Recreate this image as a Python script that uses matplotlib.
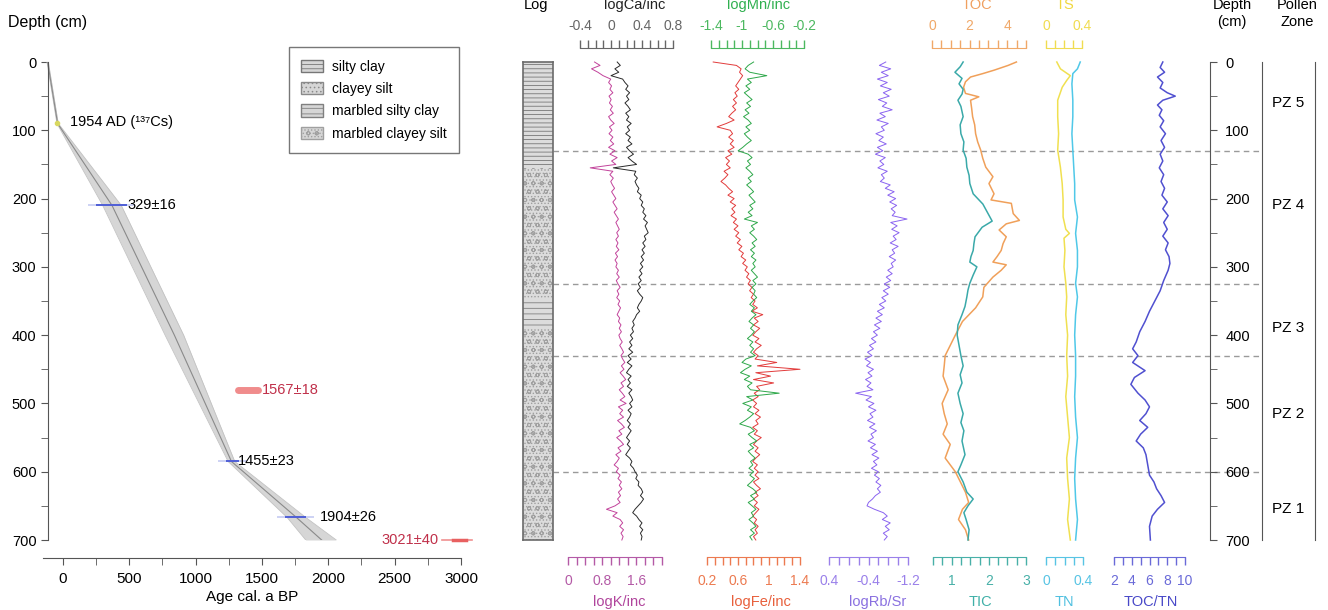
import numpy as np
import matplotlib.pyplot as plt
from matplotlib.patches import Patch

plt.rcParams['font.family'] = ['Liberation Sans', 'DejaVu Sans']
plt.rcParams['axes.unicode_minus'] = False
plt.rcParams['hatch.linewidth'] = 0.6

# ---------------- data ----------------
# age-depth model
model_depth = [0, 90, 210, 400, 585, 667, 700]
model_median = [-115, -40, 370, 840, 1270, 1760, 1950]
model_lower = [-120, -45, 300, 770, 1245, 1690, 1830]
model_upper = [-110, -35, 440, 910, 1295, 1830, 2060]

cs_depth, cs_age = 90, -45
date_depth = [210, 585, 667]
date_lo = [250, 1230, 1670]
date_hi = [480, 1330, 1830]
date_label = ['329±16', '1455±23', '1904±26']
outlier_depth = [480, 700]
outlier_lo = [1320, 2860]
outlier_hi = [1470, 3080]
outlier_label = ['1567±18', '3021±40']

# lithology log
litho_top = [0, 155, 345, 390]
litho_bot = [155, 345, 390, 700]
litho_type = ['silty clay', 'marbled clayey silt', 'marbled silty clay', 'marbled clayey silt']

zone_bounds = [130, 325, 430, 600]
zone_names = ['PZ 5', 'PZ 4', 'PZ 3', 'PZ 2', 'PZ 1']
zone_mid = [60, 210, 390, 515, 655]

# XRF scans, every 5 cm
xrf_depth = np.arange(0, 701, 5)
logK = [0.62, 0.75, 0.55, 0.70, 0.82, 1.00, 0.95, 1.02, 0.98, 1.05, 0.96, 1.01, 0.97, 1.04, 0.99,
        1.06, 0.95, 1.00, 1.08, 0.97, 1.03, 0.96, 1.05, 0.99, 1.07, 0.95, 1.10, 0.98, 1.15, 1.02,
        1.12, 0.52, 1.05, 0.98, 1.06, 1.00, 1.04, 1.09, 1.02, 1.07, 1.12, 1.05, 1.10, 1.15, 1.08,
        1.13, 1.18, 1.12, 1.16, 1.20, 1.14, 1.18, 1.12, 1.17, 1.13, 1.19, 1.11, 1.16, 1.10, 1.15,
        1.12, 1.18, 1.14, 1.20, 1.13, 1.17, 1.22, 1.15, 1.19, 1.14, 1.21, 1.17, 1.23, 1.19, 1.15,
        1.21, 1.18, 1.24, 1.20, 1.25, 1.19, 1.22, 1.27, 1.21, 1.26, 1.30, 1.24, 1.28, 1.33, 1.25,
        1.31, 1.22, 1.29, 1.35, 1.24, 1.30, 1.20, 1.27, 1.33, 1.22, 1.36, 1.18, 1.28, 1.21, 1.30,
        1.16, 1.25, 1.32, 1.19, 1.26, 1.14, 1.23, 1.30, 1.17, 1.24, 1.12, 1.20, 1.15, 1.08, 1.18,
        1.13, 1.22, 1.17, 1.25, 1.20, 1.26, 1.18, 1.23, 1.16, 1.22, 1.10, 0.90, 1.15, 1.05, 1.22,
        1.28, 1.21, 1.30, 1.24, 1.29, 1.26]
logCa = [0.08, 0.12, 0.05, 0.10, 0.00, 0.15, 0.18, 0.22, 0.19, 0.24, 0.20, 0.23, 0.18, 0.22, 0.25,
         0.19, 0.23, 0.20, 0.26, 0.21, 0.24, 0.19, 0.25, 0.22, 0.27, 0.20, 0.24, 0.29, 0.22, 0.27,
         0.33, 0.03, 0.32, 0.30, 0.34, 0.31, 0.33, 0.36, 0.34, 0.39, 0.37, 0.41, 0.39, 0.43, 0.41,
         0.45, 0.42, 0.47, 0.44, 0.46, 0.48, 0.43, 0.45, 0.41, 0.44, 0.40, 0.43, 0.39, 0.42, 0.38,
         0.41, 0.37, 0.40, 0.36, 0.39, 0.35, 0.38, 0.34, 0.37, 0.41, 0.39, 0.36, 0.34, 0.37, 0.33,
         0.31, 0.28, 0.30, 0.27, 0.29, 0.25, 0.28, 0.24, 0.27, 0.23, 0.28, 0.22, 0.26, 0.21, 0.27,
         0.23, 0.20, 0.26, 0.22, 0.25, 0.21, 0.27, 0.23, 0.26, 0.28, 0.24, 0.27, 0.22, 0.26, 0.24,
         0.21, 0.25, 0.22, 0.26, 0.23, 0.20, 0.24, 0.21, 0.25, 0.22, 0.19, 0.24, 0.27, 0.25, 0.29,
         0.31, 0.34, 0.32, 0.36, 0.35, 0.39, 0.41, 0.38, 0.42, 0.39, 0.35, 0.31, 0.28, 0.33, 0.36,
         0.40, 0.37, 0.41, 0.38, 0.40, 0.39]
logFe = [0.28, 0.58, 0.64, 0.62, 0.66, 0.63, 0.60, 0.57, 0.61, 0.56, 0.59, 0.54, 0.58, 0.53, 0.57,
         0.52, 0.48, 0.55, 0.45, 0.33, 0.50, 0.53, 0.48, 0.54, 0.50, 0.55, 0.47, 0.52, 0.44, 0.49,
         0.45, 0.50, 0.42, 0.47, 0.43, 0.38, 0.44, 0.48, 0.53, 0.47, 0.55, 0.50, 0.57, 0.52, 0.56,
         0.51, 0.58, 0.54, 0.60, 0.55, 0.61, 0.57, 0.63, 0.59, 0.65, 0.61, 0.67, 0.64, 0.70, 0.66,
         0.72, 0.69, 0.74, 0.71, 0.76, 0.73, 0.78, 0.75, 0.80, 0.77, 0.82, 0.79, 0.85, 0.78, 0.92,
         0.81, 0.86, 0.80, 0.88, 0.83, 0.79, 0.87, 0.82, 0.90, 0.84, 0.80, 0.86, 0.82, 1.10, 0.85,
         1.40, 0.83, 1.02, 0.80, 1.06, 0.84, 0.88, 0.81, 0.86, 0.79, 0.84, 0.80, 0.87, 0.82, 0.89,
         0.83, 0.86, 0.79, 0.85, 0.81, 0.90, 0.84, 0.80, 0.86, 0.82, 0.88, 0.83, 0.79, 0.85, 0.81,
         0.86, 0.82, 0.87, 0.80, 0.84, 0.89, 0.82, 0.86, 0.80, 0.85, 0.81, 0.87, 0.83, 0.79, 0.84,
         0.81, 0.86, 0.82, 0.85, 0.80, 0.83]
logMn = [-0.85, -0.92, -0.96, -0.90, -0.68, -0.93, -0.88, -0.95, -0.90, -0.97, -0.92, -0.87, -0.94,
         -0.89, -0.96, -0.91, -0.98, -0.92, -0.88, -0.95, -0.90, -0.97, -0.93, -0.88, -0.94, -0.99,
         -1.05, -0.92, -0.87, -0.93, -0.89, -0.95, -0.90, -0.86, -0.92, -0.88, -0.94, -0.89, -0.85,
         -0.91, -0.87, -0.83, -0.90, -0.86, -0.92, -0.87, -0.97, -0.80, -0.88, -0.84, -0.90, -0.85,
         -0.81, -0.87, -0.83, -0.89, -0.84, -0.88, -0.82, -0.86, -0.83, -0.88, -0.84, -0.80, -0.86,
         -0.82, -0.87, -0.83, -0.85, -0.81, -0.86, -0.90, -0.84, -0.88, -0.82, -0.87, -0.91, -0.85,
         -0.89, -0.84, -0.88, -0.93, -0.86, -0.90, -0.85, -0.89, -0.83, -0.95, -1.00, -0.88, -0.96,
         -1.02, -0.90, -0.97, -0.87, -0.93, -0.89, -0.52, -0.94, -0.86, -0.99, -0.88, -0.93, -0.85,
         -0.90, -0.96, -1.03, -0.89, -0.84, -0.92, -0.87, -0.81, -0.90, -0.85, -0.92, -0.88, -0.83,
         -0.89, -0.86, -0.91, -0.85, -0.90, -0.84, -0.88, -0.93, -0.86, -0.81, -0.89, -0.84, -0.92,
         -0.87, -0.82, -0.88, -0.85, -0.91, -0.86, -0.82, -0.89, -0.84, -0.90, -0.87]
logRbSr = [-0.75, -0.62, -0.85, -0.66, -0.80, -0.58, -0.78, -0.64, -0.86, -0.70, -0.82, -0.60, -0.77,
           -0.68, -0.88, -0.63, -0.74, -0.57, -0.80, -0.66, -0.72, -0.55, -0.70, -0.61, -0.76, -0.58,
           -0.69, -0.54, -0.74, -0.63, -0.71, -0.59, -0.78, -0.66, -0.72, -0.64, -0.84, -0.74, -0.92,
           -0.79, -0.95, -0.83, -0.97, -0.86, -0.94, -0.88, -1.18, -0.85, -0.98, -0.87, -1.02, -0.90,
           -0.96, -0.84, -1.00, -0.88, -0.93, -0.82, -0.95, -0.86, -0.90, -0.79, -0.88, -0.76, -0.85,
           -0.72, -0.83, -0.70, -0.80, -0.67, -0.75, -0.62, -0.72, -0.58, -0.68, -0.55, -0.66, -0.52,
           -0.63, -0.50, -0.58, -0.46, -0.55, -0.42, -0.50, -0.38, -0.47, -0.33, -0.44, -0.36, -0.50,
           -0.39, -0.47, -0.34, -0.45, -0.37, -0.49, -0.14, -0.46, -0.35, -0.51, -0.40, -0.55, -0.43,
           -0.49, -0.38, -0.53, -0.42, -0.56, -0.45, -0.50, -0.39, -0.54, -0.44, -0.58, -0.47, -0.61,
           -0.50, -0.57, -0.46, -0.60, -0.52, -0.62, -0.55, -0.65, -0.58, -0.64, -0.54, -0.48, -0.40,
           -0.37, -0.52, -0.70, -0.78, -0.68, -0.84, -0.74, -0.82, -0.70, -0.78, -0.72]

# bulk geochemistry
tic_depth = [0, 7, 15, 24, 32, 40, 47, 56, 65, 80, 92, 105, 117, 129, 141, 154, 166, 178, 193, 208,
             222, 233, 242, 256, 266, 276, 285, 293, 300, 312, 324, 334, 344, 358, 370, 385, 400,
             415, 430, 445, 458, 470, 485, 500, 515, 528, 540, 555, 575, 590, 600, 615, 630, 640,
             650, 660, 670, 685, 700]
tic = [1.31, 1.23, 1.09, 1.28, 1.20, 1.31, 1.28, 1.17, 1.25, 1.31, 1.23, 1.25, 1.33, 1.31, 1.39,
       1.41, 1.47, 1.49, 1.58, 1.84, 1.98, 2.09, 1.82, 1.63, 1.60, 1.58, 1.52, 1.49, 1.68, 1.58,
       1.49, 1.44, 1.41, 1.36, 1.28, 1.17, 1.15, 1.20, 1.25, 1.31, 1.23, 1.28, 1.17, 1.23, 1.31,
       1.25, 1.33, 1.28, 1.36, 1.25, 1.17, 1.31, 1.41, 1.58, 1.44, 1.33, 1.39, 1.47, 1.44]
toc_depth = [0, 5, 12, 17, 22, 29, 37, 46, 51, 56, 68, 80, 92, 105, 117, 129, 141, 154, 168, 178,
             193, 202, 207, 222, 232, 237, 246, 256, 266, 276, 285, 293, 297, 305, 315, 330, 344,
             360, 380, 400, 415, 430, 445, 460, 480, 500, 515, 530, 545, 560, 580, 600, 615, 630,
             645, 655, 670, 685, 700]
toc = [4.49, 4.05, 3.30, 2.70, 2.05, 1.78, 1.68, 1.78, 2.49, 2.05, 2.11, 2.16, 2.27, 2.32, 2.43,
       2.59, 2.70, 2.86, 3.24, 3.03, 3.30, 3.14, 4.22, 4.32, 4.65, 3.95, 3.57, 3.95, 3.78, 3.68,
       3.46, 3.24, 3.95, 3.68, 3.24, 2.76, 2.70, 2.32, 1.62, 1.24, 0.97, 0.70, 0.65, 0.59, 0.86,
       0.54, 0.65, 0.81, 0.59, 0.97, 0.70, 1.24, 1.51, 1.78, 1.95, 1.62, 1.41, 1.78, 1.95]
ts_depth = [0, 10, 20, 27, 37, 56, 80, 105, 129, 154, 178, 202, 227, 245, 251, 258, 276, 300, 324,
            344, 370, 400, 430, 460, 490, 520, 550, 580, 610, 640, 670, 700]
ts = [0.12, 0.16, 0.27, 0.23, 0.18, 0.13, 0.13, 0.14, 0.13, 0.16, 0.18, 0.19, 0.19, 0.22, 0.26,
      0.20, 0.21, 0.20, 0.22, 0.23, 0.22, 0.24, 0.23, 0.24, 0.22, 0.24, 0.26, 0.23, 0.24, 0.26,
      0.24, 0.27]
tn_depth = [0, 10, 17, 32, 56, 80, 105, 129, 154, 178, 202, 227, 251, 276, 300, 324, 344, 370, 400,
            430, 460, 490, 520, 550, 580, 610, 640, 670, 700]
tn = [0.37, 0.34, 0.29, 0.28, 0.29, 0.29, 0.28, 0.29, 0.30, 0.31, 0.31, 0.34, 0.32, 0.34, 0.34,
      0.32, 0.34, 0.32, 0.31, 0.32, 0.32, 0.31, 0.32, 0.34, 0.32, 0.31, 0.32, 0.34, 0.32]
cn_depth = [0, 8, 15, 22, 30, 38, 45, 50, 56, 63, 70, 78, 86, 95, 105, 115, 125, 135, 145, 155,
            165, 175, 185, 195, 205, 215, 225, 235, 245, 255, 265, 275, 285, 295, 305, 320, 335,
            350, 365, 380, 395, 410, 420, 430, 440, 452, 462, 472, 485, 495, 505, 515, 525, 535,
            545, 555, 565, 575, 590, 605, 615, 625, 635, 645, 655, 665, 680, 700]
toc_tn = [7.5, 7.2, 7.7, 6.9, 7.5, 7.2, 8.0, 8.9, 7.5, 6.9, 7.4, 7.1, 7.6, 7.2, 7.8, 7.3, 7.7, 7.2,
          7.5, 7.1, 7.6, 7.3, 7.7, 7.4, 8.0, 7.5, 8.1, 7.6, 8.0, 7.5, 8.1, 7.8, 8.2, 8.3, 8.1, 7.6,
          7.2, 6.6, 6.0, 5.5, 4.9, 4.5, 4.1, 4.7, 4.1, 5.5, 4.3, 3.9, 4.7, 5.5, 6.0, 5.6, 4.9, 5.8,
          5.0, 4.5, 5.3, 5.6, 5.8, 6.0, 6.5, 6.8, 7.3, 7.7, 6.9, 6.3, 6.0, 6.1]

# ---------------- layout helpers ----------------
W, H = 1328, 610
PT = 72 / 100
fig = plt.figure(figsize=(W / 100, H / 100), dpi=100)


def rect(x0, x1, y0=62, y1=540):
    return [x0 / W, 1 - y1 / H, (x1 - x0) / W, (y1 - y0) / H]


GREY = '#555555'

# ---------------- age-depth model ----------------
ax = fig.add_axes(rect(43, 461))
ax.set_xlim(-150, 3000)
ax.set_ylim(700, 0)
ax.patch.set_visible(False)
ax.spines['top'].set_visible(False)
ax.spines['right'].set_visible(False)
ax.spines['left'].set_position(('data', -110))
ax.spines['left'].set_bounds(0, 700)
ax.spines['bottom'].set_position(('outward', 18 * PT))
for s in ('left', 'bottom'):
    ax.spines[s].set_color(GREY)
ax.set_xticks(range(0, 3001, 500))
ax.set_xticks(range(250, 3000, 500), minor=True)
ax.set_yticks(range(0, 701, 100))
ax.set_yticks(range(50, 700, 100), minor=True)
ax.tick_params(which='both', direction='out', length=5, color=GREY, labelsize=10.5)
ax.tick_params(axis='x', pad=5, labelsize=11)

ax.fill_betweenx(model_depth, model_lower, model_upper, color='#d6d6d6', lw=0)
ax.plot(model_lower, model_depth, color='#c2c2c2', lw=0.6)
ax.plot(model_upper, model_depth, color='#c2c2c2', lw=0.6)
ax.plot(model_median, model_depth, color='#8a8a8a', lw=0.8)

ax.plot([cs_age], [cs_depth], 'o', ms=3, color='#d8d860')
ax.text(52, cs_depth - 2, '1954 AD (¹³⁷Cs)', fontsize=10.5, va='center')

date_text_off = [10, -10, 110]
for d, lo, hi, lab, off in zip(date_depth, date_lo, date_hi, date_label, date_text_off):
    ax.plot([lo - 60, hi + 60], [d, d], color='#c5cbf2', lw=1.2, solid_capstyle='butt')
    ax.plot([lo, hi], [d, d], color='#4f5fd6', lw=1.4, solid_capstyle='butt')
    ax.text(hi + off, d, lab, fontsize=10.5, va='center')

ax.plot([outlier_lo[0], outlier_hi[0]], [outlier_depth[0]] * 2, color='#f08c8c', lw=5,
        solid_capstyle='round')
ax.text(outlier_hi[0] + 30, outlier_depth[0], outlier_label[0], color='#c0304a',
        fontsize=10.5, va='center')
ax.plot([outlier_lo[1], outlier_hi[1]], [outlier_depth[1]] * 2, color='#f09090', lw=1.2,
        clip_on=False)
ax.plot([outlier_lo[1] + 80, outlier_hi[1] - 40], [outlier_depth[1]] * 2, color='#e86060', lw=2.5,
        clip_on=False)
ax.text(outlier_lo[1] - 30, outlier_depth[1], outlier_label[1], color='#c0304a',
        fontsize=10.5, va='center', ha='right')

ax.set_xlabel('Age cal. a BP', fontsize=11, labelpad=3)
fig.text(8 / W, 1 - 22 / H, 'Depth (cm)', fontsize=11.5, va='center')

hatches = {'silty clay': '----', 'clayey silt': '....',
           'marbled silty clay': '---', 'marbled clayey silt': 'oo.....'}
hatch_col = {'silty clay': '#777777', 'clayey silt': '#8a8a8a',
             'marbled silty clay': '#808080', 'marbled clayey silt': '#a0a0a0'}
handles = [Patch(facecolor='#d6d6d6', edgecolor=hatch_col[k], hatch=hatches[k], label=k)
           for k in ['silty clay', 'clayey silt', 'marbled silty clay', 'marbled clayey silt']]
leg = ax.legend(handles=handles, loc='upper right', bbox_to_anchor=(0.995, 1.031),
                fontsize=10, frameon=True, fancybox=False, edgecolor=GREY,
                handlelength=1.6, handleheight=1.0, handletextpad=0.6, labelspacing=0.6,
                borderpad=0.9, borderaxespad=0)
leg.get_frame().set_linewidth(1)

# ---------------- zone boundaries ----------------
zx = fig.add_axes(rect(553, 1262))
zx.set_xlim(0, 1)
zx.set_ylim(700, 0)
zx.axis('off')
for b in zone_bounds:
    zx.axhline(b, color='#9a9a9a', lw=1, ls=(0, (4, 3)))

# ---------------- lithology log ----------------
lx = fig.add_axes(rect(523, 553))
lx.set_xlim(0, 1)
lx.set_ylim(700, 0)
lx.set_xticks([])
lx.set_yticks([])
for t, b, k in zip(litho_top, litho_bot, litho_type):
    lx.axhspan(t, b, facecolor='#dcdcdc', edgecolor=hatch_col[k], hatch=hatches[k], lw=0)
for s in lx.spines.values():
    s.set_color('#6a6a6a')
    s.set_linewidth(1.2)
fig.text(536 / W, 1 - 5 / H, 'Log', fontsize=10.5, ha='center', va='center')


# ---------------- proxy profiles ----------------
def profile(x0, x1, lo, hi, side, labelled, step, scol, title, tx, tcol,
            depth, values, lcol, lw):
    a = fig.add_axes(rect(x0, x1))
    a.set_xlim(lo, hi)
    a.set_ylim(700, 0)
    a.patch.set_visible(False)
    for s in a.spines.values():
        s.set_visible(False)
    a.set_yticks([])
    sp = a.spines[side]
    sp.set_visible(True)
    sp.set_color(scol)
    sp.set_position(('outward', (14 if side == 'top' else 17) * PT))
    a.xaxis.set_ticks_position(side)
    a.set_xticks(labelled)
    a.set_xticklabels([('%g' % v) for v in labelled])
    n = int(round(abs(hi - lo) / step))
    a.set_xticks(np.linspace(lo, hi, n + 1), minor=True)
    a.tick_params(axis='x', which='both', direction='out', length=6, width=1, color=scol,
                  labelcolor=scol, labelsize=10, pad=5 if side == 'top' else 6)
    a.plot(values, depth, color=lcol, lw=lw, clip_on=False)
    ty = 5 if side == 'top' else 602
    fig.text(tx / W, 1 - ty / H, title, color=tcol, ha='center', va='center', fontsize=10.5)
    return a


profile(580, 673, -0.4, 0.8, 'top', [-0.4, 0, 0.4, 0.8], 0.1, '#666666', 'logCa/inc', 635,
        '#222222', xrf_depth, logCa, '#2a2a2a', 0.7)
profile(568, 662, 0, 2.2, 'bottom', [0, 0.8, 1.6], 0.2, '#b45aa6', 'logK/inc', 619,
        '#b0449c', xrf_depth, logK, '#c2439b', 0.7)
profile(707, 800, 0.2, 1.4, 'bottom', [0.2, 0.6, 1, 1.4], 0.1, '#ec7a50', 'logFe/inc', 761,
        '#e8603c', xrf_depth, logFe, '#e23b3b', 0.7)
profile(711, 804, -1.4, -0.2, 'top', [-1.4, -1, -0.6, -0.2], 0.1, '#4cb860', 'logMn/inc', 759,
        '#30b050', xrf_depth, logMn, '#2ea84a', 0.7)
profile(829, 908, 0.4, -1.2, 'bottom', [0.4, -0.4, -1.2], 0.2, '#9a80ea', 'logRb/Sr', 878,
        '#8a70e0', xrf_depth, logRbSr, '#8a63f0', 0.7)
profile(932, 1026, 0, 5, 'top', [0, 2, 4], 0.5, '#f0a868', 'TOC', 977,
        '#f0a060', toc_depth, toc, '#f0a05a', 1.1)
profile(933, 1026, 0.5, 3, 'bottom', [1, 2, 3], 0.25, '#48b0a8', 'TIC', 980,
        '#40b0a8', tic_depth, tic, '#3aa9a9', 1.1)
profile(1046, 1082, 0, 0.4, 'top', [0, 0.4], 0.1, '#f0dc50', 'TS', 1065,
        '#f0d840', ts_depth, ts, '#f0e050', 1.1)
profile(1046, 1083, 0, 0.4, 'bottom', [0, 0.4], 0.1, '#58c4e4', 'TN', 1064,
        '#50c0e0', tn_depth, tn, '#4fc8e8', 1.1)
profile(1114, 1185, 2, 10, 'bottom', [2, 4, 6, 8, 10], 1, '#6a6ad8', 'TOC/TN', 1151,
        '#4848c8', cn_depth, toc_tn, '#5050d0', 1.1)

# ---------------- right depth axis & pollen zones ----------------
rx = fig.add_axes(rect(1200, 1210))
rx.set_ylim(700, 0)
rx.patch.set_visible(False)
for s in ('top', 'bottom', 'left'):
    rx.spines[s].set_visible(False)
rx.spines['right'].set_color(GREY)
rx.set_xticks([])
rx.yaxis.tick_right()
rx.set_yticks(range(0, 701, 100))
rx.set_yticks(range(50, 700, 100), minor=True)
rx.tick_params(which='both', direction='out', length=5, color=GREY, labelsize=10.5, pad=6)
fig.text(1232 / W, 1 - 5 / H, 'Depth', fontsize=10.5, ha='center', va='center')
fig.text(1232 / W, 1 - 22 / H, '(cm)', fontsize=10.5, ha='center', va='center')

px = fig.add_axes(rect(1262, 1315))
px.set_xlim(0, 1)
px.set_ylim(700, 0)
px.set_xticks([])
px.set_yticks([])
for s in ('top', 'bottom'):
    px.spines[s].set_visible(False)
for s in ('left', 'right'):
    px.spines[s].set_color(GREY)
for name, m in zip(zone_names, zone_mid):
    px.text(0.5, m, name, ha='center', va='center', fontsize=11)
fig.text(1297 / W, 1 - 5 / H, 'Pollen', fontsize=10.5, ha='center', va='center')
fig.text(1297 / W, 1 - 22 / H, 'Zone', fontsize=10.5, ha='center', va='center')

fig.savefig('out.png', dpi=100)
